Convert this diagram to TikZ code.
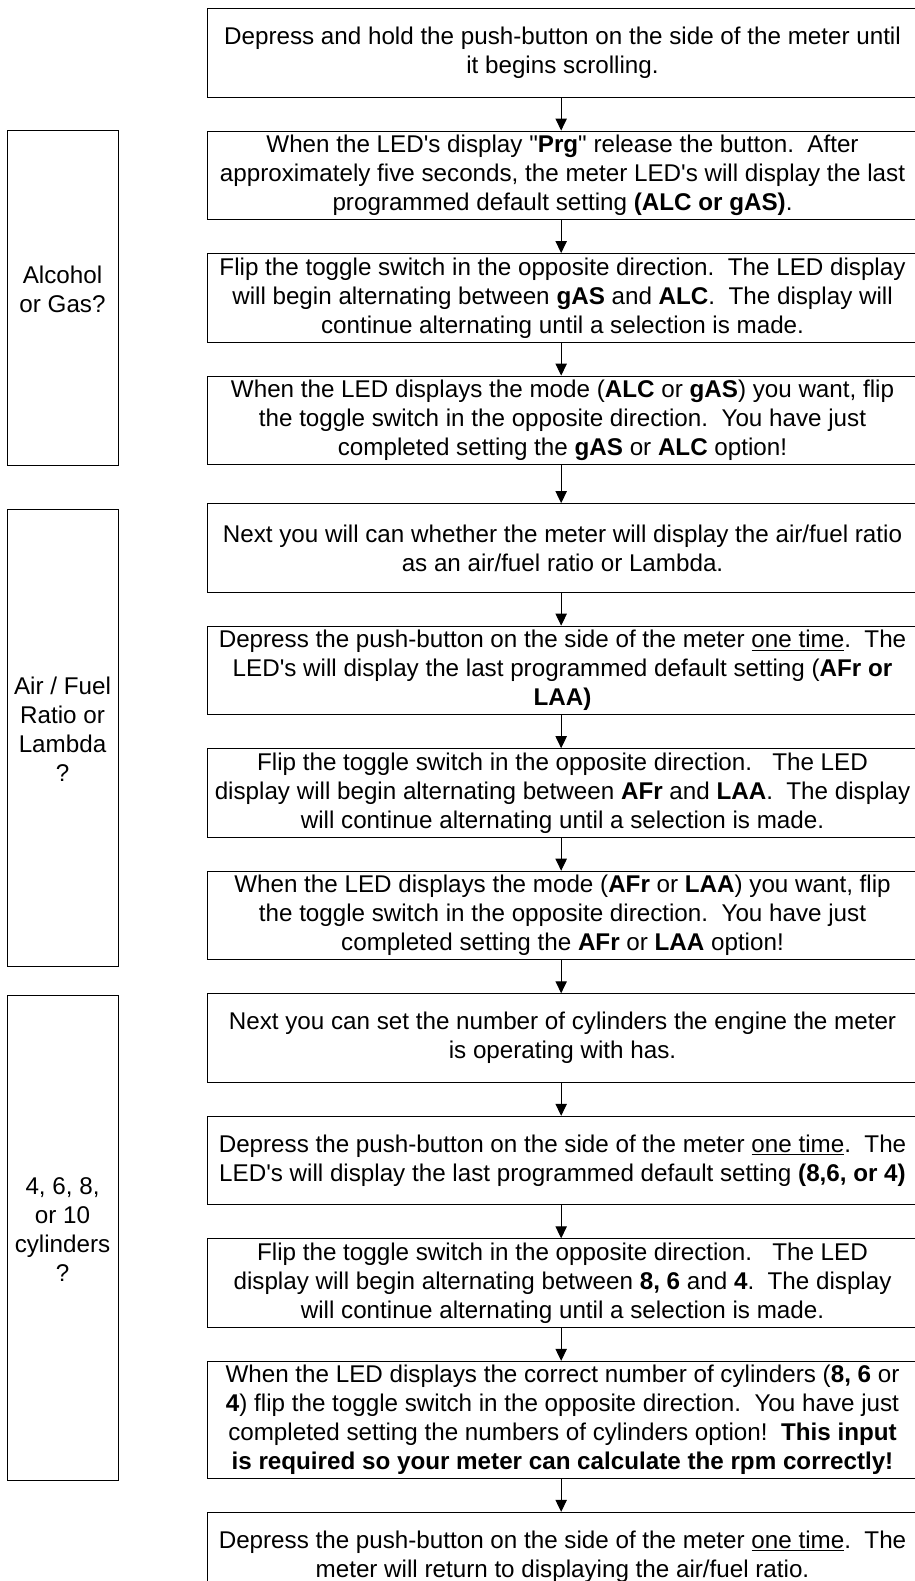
\documentclass[tikz,border=0pt]{standalone}
\usepackage{fontspec}
\setmainfont{Liberation Sans}[Ligatures=TeXOff]
\usepackage{tikz}
\usetikzlibrary{arrows.meta,positioning,fit}
\newcommand{\twosp}{\ \ }

\begin{document}
\begin{tikzpicture}[font=\fontsize{18.15pt}{21.75pt}\selectfont,node distance=24.75pt,
   stepbox/.style={draw,line width=0.75pt,minimum width=533.25pt,minimum height=66.4pt,
             align=center,inner sep=2pt},
   sidebox/.style={draw,line width=0.75pt,inner sep=0pt,align=center},
   arr/.style={-{Triangle[length=9pt,width=8.5pt]},line width=0.75pt}]
  \useasboundingbox (0,0) rectangle (685.5pt,-1185.75pt);
  % main column
  \node[stepbox,anchor=north] (b1) at (421.875pt,-6pt)
       {Depress and hold the push-button on the side of the meter until\\it begins scrolling.};
  \node[stepbox,below=of b1] (b2)
       {When the LED's display "\textbf{Prg}" release the button.\twosp After\\approximately five seconds, the meter LED's will display the last\\programmed default setting \textbf{(ALC or gAS)}.};
  \node[stepbox,below=of b2] (b3)
       {Flip the toggle switch in the opposite direction.\twosp The LED display\\will begin alternating between \textbf{gAS} and \textbf{ALC}.\twosp The display will\\continue alternating until a selection is made.};
  \node[stepbox,below=of b3] (b4)
       {When the LED displays the mode (\textbf{ALC} or \textbf{gAS}) you want, flip\\the toggle switch in the opposite direction.\twosp You have just\\completed setting the \textbf{gAS} or \textbf{ALC} option!};
  \node[stepbox,below=28.5pt of b4] (b5)
       {Next you will can whether the meter will display the air/fuel ratio\\as an air/fuel ratio or Lambda.};
  \node[stepbox,below=of b5] (b6)
       {Depress the push-button on the side of the meter \underline{one time}.\twosp The\\LED's will display the last programmed default setting (\textbf{AFr or}\\\textbf{LAA)}};
  \node[stepbox,below=of b6] (b7)
       {Flip the toggle switch in the opposite direction.\twosp\ The LED\\display will begin alternating between \textbf{AFr} and \textbf{LAA}.\twosp The display\\will continue alternating until a selection is made.};
  \node[stepbox,below=of b7] (b8)
       {When the LED displays the mode (\textbf{AFr} or \textbf{LAA}) you want, flip\\the toggle switch in the opposite direction.\twosp You have just\\completed setting the \textbf{AFr} or \textbf{LAA} option!};
  \node[stepbox,below=of b8] (b9)
       {Next you can set the number of cylinders the engine the meter\\is operating with has.};
  \node[stepbox,below=of b9] (b10)
       {Depress the push-button on the side of the meter \underline{one time}.\twosp The\\LED's will display the last programmed default setting \textbf{(8,6, or 4)}};
  \node[stepbox,below=of b10] (b11)
       {Flip the toggle switch in the opposite direction.\twosp\ The LED\\display will begin alternating between \textbf{8, 6} and \textbf{4}.\twosp The display\\will continue alternating until a selection is made.};
  \node[stepbox,minimum height=87.75pt,below=of b11] (b12)
       {When the LED displays the correct number of cylinders (\textbf{8, 6} or\\\textbf{4}) flip the toggle switch in the opposite direction.\twosp You have just\\completed setting the numbers of cylinders option!\twosp \textbf{This input}\\\textbf{is required so your meter can calculate the rpm correctly!}};
  \node[stepbox,below=of b12] (b13)
       {Depress the push-button on the side of the meter \underline{one time}.\twosp The\\meter will return to displaying the air/fuel ratio.};
  \foreach \a/\b in {b1/b2,b2/b3,b3/b4,b4/b5,b5/b6,b6/b7,b7/b8,b8/b9,b9/b10,b10/b11,b11/b12,b12/b13}
     \draw[arr] ([xshift=-1pt]\a.south) -- ([xshift=-1pt]\b.north);
  % question boxes on the left
  \coordinate (lx) at (5.25pt,0);
  \coordinate (rx) at (88.5pt,0);
  \node[sidebox,fit={(lx |- b2.north) (rx |- b4.south)}] (s1) {Alcohol\\or Gas?};
  \node[sidebox,fit={([yshift=-5pt]lx |- b5.north) ([yshift=-5pt]rx |- b8.south)}] (s2)
       {Air / Fuel\\Ratio or\\Lambda\\?};
  \node[sidebox,fit={([yshift=-1.5pt]lx |- b9.north) ([yshift=-1.5pt]rx |- b12.south)}] (s3)
       {4, 6, 8,\\or 10\\cylinders\\?};
\end{tikzpicture}
\end{document}
